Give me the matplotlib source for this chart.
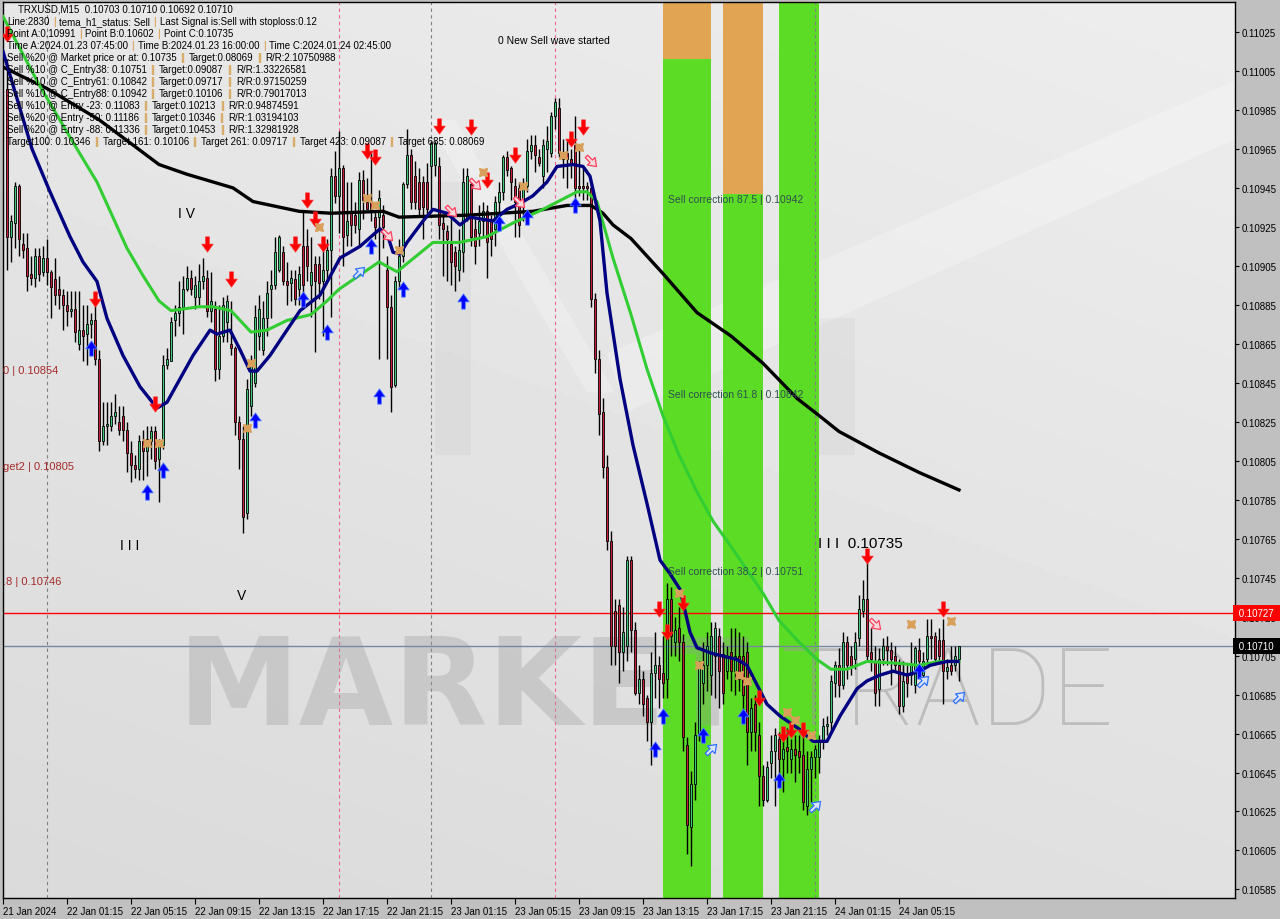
import re
import numpy as np
import matplotlib
matplotlib.use("Agg")
import matplotlib.pyplot as plt
from matplotlib.path import Path
from matplotlib.patches import Rectangle, Polygon

plt.rcParams['font.family'] = ['Liberation Sans', 'DejaVu Sans']

# ---- candles (prices in points of 1e-5), bar 0 = 21 Jan 21:30, M15 ----
opens = [10996, 10920, 10927, 10946, 10916, 10914, 10901, 10899, 10910, 10902,
         10909, 10902, 10898, 10893, 10890, 10885, 10882, 10883, 10865, 10872,
         10870, 10875, 10877, 10857, 10815, 10823, 10823, 10828, 10825, 10828,
         10821, 10809, 10803, 10801, 10815, 10810, 10815, 10820, 10806, 10813,
         10854, 10856, 10877, 10881, 10884, 10893, 10899, 10889, 10889, 10897,
         10899, 10882, 10883, 10852, 10869, 10876, 10865, 10863, 10825, 10816,
         10778, 10833, 10845, 10869, 10862, 10878, 10893, 10895, 10903, 10912,
         10897, 10896, 10898, 10893, 10915, 10915, 10895, 10906, 10906, 10897,
         10903, 10913, 10951, 10941, 10955, 10921, 10933, 10931, 10924, 10949,
         10938, 10938, 10930, 10930, 10931, 10903, 10884, 10844, 10897, 10910,
         10947, 10962, 10951, 10948, 10948, 10948, 10956, 10957, 10956, 10927,
         10923, 10916, 10912, 10903, 10912, 10929, 10947, 10924, 10922, 10928,
         10933, 10928, 10924, 10938, 10943, 10961, 10955, 10946, 10945, 10939,
         10946, 10964, 10967, 10961, 10951, 10965, 10963, 10982, 10986, 10960,
         10963, 10960, 10967, 10946, 10946, 10946, 10945, 10888, 10857, 10830,
         10802, 10764, 10728, 10731, 10707, 10710, 10754, 10718, 10686, 10693,
         10683, 10671, 10696, 10700, 10696, 10693, 10734, 10712, 10719, 10712,
         10659, 10617, 10639, 10664, 10691, 10700, 10695, 10705, 10715, 10706,
         10697, 10707, 10697, 10705, 10705, 10707, 10666, 10680, 10664, 10643,
         10631, 10650, 10656, 10662, 10652, 10658, 10652, 10657, 10656, 10654,
         10628, 10647, 10653, 10653, 10661, 10669, 10671, 10691, 10700, 10690,
         10712, 10705, 10703, 10714, 10728, 10734, 10707, 10702, 10688, 10703,
         10710, 10708, 10705, 10700, 10679, 10696, 10695, 10690, 10708, 10695,
         10703, 10715, 10715, 10713, 10713, 10697, 10700, 10700, 10703]
highs = [11011, 10931, 10948, 10947, 10922, 10922, 10910, 10914, 10914, 10915,
         10919, 10903, 10909, 10900, 10893, 10892, 10892, 10892, 10892, 10885,
         10885, 10881, 10887, 10862, 10835, 10835, 10835, 10839, 10833, 10833,
         10825, 10815, 10808, 10818, 10821, 10823, 10823, 10823, 10816, 10859,
         10863, 10879, 10885, 10897, 10900, 10905, 10903, 10900, 10906, 10909,
         10903, 10902, 10887, 10885, 10889, 10890, 10887, 10864, 10828, 10823,
         10847, 10859, 10885, 10890, 10887, 10897, 10903, 10920, 10921, 10915,
         10907, 10903, 10903, 10905, 10933, 10924, 10920, 10910, 10910, 10914,
         10919, 10955, 10964, 10974, 10957, 10948, 10948, 10938, 10953, 10954,
         10950, 10964, 10933, 10944, 10936, 10910, 10890, 10900, 10919, 10948,
         10975, 10965, 10959, 10955, 10951, 10958, 10969, 10969, 10961, 10931,
         10926, 10931, 10915, 10924, 10955, 10955, 10950, 10929, 10936, 10938,
         10936, 10931, 10941, 10948, 10962, 10964, 10956, 10950, 10948, 10950,
         10970, 10972, 10972, 10965, 10970, 10977, 10984, 10991, 10991, 10970,
         10970, 10965, 10982, 10965, 10955, 10948, 10948, 10891, 10862, 10837,
         10808, 10769, 10734, 10734, 10730, 10756, 10756, 10722, 10700, 10697,
         10685, 10707, 10717, 10705, 10715, 10742, 10740, 10725, 10730, 10716,
         10663, 10646, 10671, 10702, 10712, 10717, 10722, 10722, 10719, 10712,
         10710, 10719, 10719, 10717, 10715, 10712, 10683, 10685, 10671, 10649,
         10651, 10664, 10668, 10666, 10666, 10668, 10662, 10664, 10664, 10664,
         10656, 10656, 10659, 10664, 10673, 10674, 10695, 10702, 10709, 10717,
         10715, 10710, 10717, 10736, 10744, 10753, 10719, 10710, 10709, 10714,
         10715, 10712, 10710, 10703, 10702, 10700, 10712, 10710, 10714, 10707,
         10724, 10724, 10717, 10719, 10724, 10703, 10710, 10710, 10710]
lows = [10903, 10907, 10914, 10910, 10909, 10892, 10895, 10894, 10897, 10900,
        10895, 10878, 10885, 10883, 10872, 10874, 10879, 10866, 10862, 10856,
        10854, 10868, 10854, 10810, 10813, 10813, 10820, 10824, 10818, 10815,
        10799, 10794, 10796, 10795, 10795, 10797, 10806, 10801, 10784, 10811,
        10852, 10856, 10869, 10874, 10870, 10892, 10890, 10883, 10885, 10893,
        10879, 10876, 10846, 10847, 10866, 10866, 10859, 10818, 10801, 10768,
        10775, 10828, 10843, 10862, 10859, 10869, 10878, 10893, 10902, 10895,
        10885, 10887, 10885, 10885, 10890, 10897, 10879, 10861, 10888, 10869,
        10897, 10879, 10937, 10922, 10905, 10915, 10915, 10922, 10915, 10929,
        10934, 10928, 10919, 10857, 10914, 10857, 10830, 10843, 10893, 10907,
        10945, 10934, 10934, 10931, 10919, 10931, 10934, 10951, 10919, 10900,
        10897, 10895, 10892, 10897, 10902, 10928, 10915, 10906, 10915, 10920,
        10899, 10910, 10915, 10928, 10939, 10951, 10939, 10920, 10920, 10928,
        10943, 10960, 10953, 10956, 10945, 10953, 10961, 10975, 10961, 10950,
        10945, 10950, 10939, 10941, 10939, 10939, 10884, 10850, 10818, 10796,
        10759, 10700, 10700, 10691, 10697, 10702, 10707, 10685, 10680, 10674,
        10661, 10649, 10683, 10678, 10683, 10683, 10705, 10705, 10702, 10656,
        10603, 10597, 10631, 10661, 10680, 10687, 10685, 10683, 10678, 10680,
        10693, 10687, 10685, 10687, 10671, 10649, 10656, 10656, 10628, 10628,
        10630, 10642, 10628, 10642, 10635, 10645, 10645, 10640, 10645, 10626,
        10623, 10630, 10642, 10645, 10657, 10664, 10666, 10684, 10684, 10688,
        10693, 10695, 10698, 10710, 10725, 10702, 10697, 10679, 10679, 10700,
        10700, 10690, 10697, 10675, 10676, 10684, 10690, 10686, 10697, 10693,
        10700, 10703, 10700, 10702, 10680, 10693, 10695, 10697, 10692]
closes = [10920, 10928, 10946, 10919, 10913, 10900, 10899, 10910, 10901, 10909,
          10902, 10894, 10890, 10890, 10885, 10882, 10883, 10871, 10872, 10869,
          10875, 10877, 10857, 10815, 10823, 10824, 10828, 10830, 10821, 10821,
          10809, 10803, 10801, 10815, 10810, 10816, 10820, 10805, 10813, 10854,
          10857, 10876, 10881, 10884, 10893, 10899, 10893, 10895, 10897, 10900,
          10882, 10887, 10852, 10869, 10885, 10887, 10863, 10825, 10816, 10776,
          10842, 10856, 10879, 10883, 10878, 10891, 10895, 10912, 10920, 10897,
          10895, 10899, 10888, 10901, 10895, 10905, 10902, 10897, 10896, 10903,
          10913, 10951, 10941, 10955, 10920, 10928, 10926, 10926, 10949, 10939,
          10934, 10934, 10925, 10940, 10925, 10884, 10843, 10897, 10910, 10947,
          10962, 10938, 10938, 10934, 10935, 10934, 10968, 10968, 10926, 10924,
          10919, 10907, 10905, 10913, 10948, 10951, 10920, 10915, 10928, 10933,
          10917, 10919, 10938, 10943, 10961, 10954, 10948, 10938, 10926, 10945,
          10964, 10967, 10962, 10958, 10967, 10969, 10982, 10989, 10963, 10963,
          10960, 10958, 10945, 10945, 10945, 10945, 10888, 10857, 10829, 10802,
          10764, 10710, 10710, 10707, 10717, 10754, 10718, 10686, 10693, 10680,
          10671, 10696, 10700, 10693, 10691, 10734, 10715, 10718, 10712, 10663,
          10618, 10639, 10664, 10699, 10700, 10710, 10715, 10719, 10697, 10686,
          10705, 10697, 10705, 10693, 10685, 10666, 10678, 10666, 10643, 10631,
          10648, 10656, 10664, 10652, 10657, 10656, 10657, 10654, 10653, 10630,
          10647, 10653, 10657, 10661, 10669, 10670, 10692, 10700, 10690, 10712,
          10700, 10699, 10712, 10729, 10734, 10705, 10703, 10686, 10703, 10710,
          10708, 10703, 10700, 10679, 10692, 10691, 10700, 10709, 10702, 10702,
          10715, 10714, 10703, 10705, 10697, 10699, 10697, 10705, 10710]

# ---- moving averages (bar index, points) ----
slow_x = [-1, 10, 23, 31.5, 38, 45, 56.5, 61.5, 73, 81, 94, 98, 115, 131.5, 140,
          146, 149, 151.5, 156, 164, 172.5, 181, 189, 197.5, 202.5, 208, 218, 228, 238]
slow_y = [11007, 10996, 10980, 10967, 10957, 10952, 10945, 10938, 10933, 10932, 10933,
          10930, 10931, 10933, 10936, 10936, 10932, 10926, 10919, 10901, 10881, 10869,
          10855, 10837, 10829, 10820, 10809, 10799, 10790]
mid_x = [-1, 8, 17.5, 22.5, 30, 34, 38, 41, 48, 51.5, 56, 61, 65, 70, 76, 80, 83, 93,
         97.5, 106.5, 113, 120, 126.5, 134, 142.5, 145, 147.5, 151.5, 156, 160, 164,
         168, 172.5, 176.5, 181, 185, 189, 193, 197.5, 202.5, 206, 210, 215, 223, 228,
         233, 238]
mid_y = [11033, 10998, 10965, 10948, 10914, 10900, 10887, 10882, 10884, 10884, 10882,
         10871, 10872, 10877, 10880, 10887, 10893, 10907, 10902, 10917, 10917, 10920,
         10927, 10934, 10943, 10943, 10938, 10909, 10880, 10852, 10828, 10808, 10789,
         10774, 10761, 10749, 10737, 10723, 10713, 10703, 10698, 10698, 10702, 10701,
         10700, 10702, 10702]
fast_x = [-1, 6.25, 10.75, 15.75, 19, 22.5, 25, 29, 33.25, 37.5, 40, 43.25, 46.5,
          50.75, 52.5, 55.75, 58.25, 60.75, 62.5, 65.75, 69, 73.25, 78.25, 83.25,
          88.25, 93.25, 95.25, 96.5, 98.25, 100, 104, 106.5, 110, 113.25, 115.75,
          121.5, 125, 128.25, 131.5, 135, 137.5, 141.5, 144, 145.75, 148.25, 150,
          153.25, 156.5, 160, 163.25, 165.75, 168.25, 170.75, 172.5, 176.5, 182.5,
          185, 187.5, 190, 193.25, 198.25, 201.5, 205, 208.25, 212.5, 215, 218.25,
          221.5, 225, 228.25, 230.75, 235, 237.75]
fast_y = [11015, 10965, 10943, 10920, 10907, 10897, 10878, 10859, 10843, 10832, 10835,
          10847, 10859, 10872, 10870, 10872, 10862, 10851, 10851, 10859, 10869, 10882,
          10890, 10909, 10915, 10924, 10920, 10912, 10911, 10917, 10928, 10934, 10932,
          10926, 10930, 10928, 10934, 10937, 10941, 10948, 10956, 10957, 10956, 10951,
          10928, 10891, 10847, 10813, 10783, 10754, 10747, 10739, 10717, 10709, 10706,
          10703, 10700, 10690, 10680, 10674, 10667, 10661, 10661, 10674, 10688, 10692,
          10695, 10697, 10695, 10697, 10700, 10702, 10702]

# ---- signals (bar index, points) ----
sell_x = [0, 22, 37, 50, 56, 72, 75, 77, 79, 90, 92, 108, 116, 120, 127, 141, 144,
          163, 165, 169, 188, 194, 196, 199, 215, 234]
sell_y = [11024, 10888, 10834, 10916, 10898, 10916, 10939, 10929, 10916, 10964, 10961,
          10977, 10976, 10949, 10962, 10970, 10976, 10729, 10717, 10732, 10683, 10665,
          10667, 10667, 10756, 10729]
buy_x = [21, 35, 39, 62, 74, 80, 91, 93, 99, 114, 123, 130, 142, 162, 164, 174, 184, 193, 228]
buy_y = [10863, 10789, 10800, 10826, 10888, 10871, 10915, 10838, 10893, 10887, 10927,
         10930, 10936, 10657, 10674, 10664, 10674, 10641, 10697]
exit_sell_x = [95, 111, 117, 128, 146, 217]
exit_sell_y = [10921, 10933, 10947, 10938, 10959, 10721]
exit_buy_x = [88, 176, 202, 229, 238]
exit_buy_y = [10902, 10657, 10628, 10692, 10684]
cross_x = [35, 38, 60, 61, 78, 90, 92, 98, 119, 129, 139, 143, 168, 173, 183, 185,
           195, 197, 201, 226, 236]
cross_y = [10814, 10814, 10822, 10855, 10925, 10940, 10936, 10913, 10953, 10946, 10962,
           10966, 10737, 10700, 10695, 10692, 10676, 10672, 10664, 10721, 10723]

# correction zones (bar spans) and their upper orange cap
zone_start = [164, 179, 193]
zone_end = [176, 189, 203]
zone_cap = [0.11011, 0.10942, None]

tick_labels = ["21 Jan 2024", "22 Jan 01:15", "22 Jan 05:15", "22 Jan 09:15",
               "22 Jan 13:15", "22 Jan 17:15", "22 Jan 21:15", "23 Jan 01:15",
               "23 Jan 05:15", "23 Jan 09:15", "23 Jan 13:15", "23 Jan 17:15",
               "23 Jan 21:15", "24 Jan 01:15", "24 Jan 05:15"]
day_breaks = [10, 106, 202]
marks = [83, 137]

header = [
    "TRXUSD,M15  0.10703 0.10710 0.10692 0.10710",
    "Line:2830 | tema_h1_status: Sell | Last Signal is:Sell with stoploss:0.12",
    "Point A:0.10991 | Point B:0.10602 | Point C:0.10735",
    "Time A:2024.01.23 07:45:00 | Time B:2024.01.23 16:00:00 | Time C:2024.01.24 02:45:00",
    "Sell %20 @ Market price or at: 0.10735 || Target:0.08069 || R/R:2.10750988",
    "Sell %10 @ C_Entry38: 0.10751 || Target:0.09087 || R/R:1.33226581",
    "Sell %10 @ C_Entry61: 0.10842 || Target:0.09717 || R/R:0.97150259",
    "Sell %10 @ C_Entry88: 0.10942 || Target:0.10106 || R/R:0.79017013",
    "Sell %10 @ Entry -23: 0.11083 || Target:0.10213 || R/R:0.94874591",
    "Sell %20 @ Entry -50: 0.11186 || Target:0.10346 || R/R:1.03194103",
    "Sell %20 @ Entry -88: 0.11336 || Target:0.10453 || R/R:1.32981928",
    "Target100: 0.10346 || Target 161: 0.10106 || Target 261: 0.09717 || Target 423: 0.09087 || Target 685: 0.08069",
]

W, H = 1280, 920
fig = plt.figure(figsize=(W / 100, H / 100), dpi=100, facecolor='#c0c0c0')
ax = fig.add_axes([3 / W, 21 / H, 1232 / W, 896 / H])
YMIN, YMAX = 0.105806, 0.110404
XMIN, XMAX = -1, 307

# background
gy, gx = np.mgrid[0:1:200j, 0:1:200j]
bg = 0.855 + 0.05 * gy + 0.025 * gx
ax.imshow(bg, cmap='gray', vmin=0, vmax=1, extent=[XMIN, XMAX, YMIN, YMAX],
          origin='lower', aspect='auto', zorder=0)
ax.add_patch(Polygon([(150, 0.1086), (307, 0.1100), (307, 0.1097), (155, 0.1083)],
                     closed=True, fc='white', alpha=0.25, lw=0, zorder=0.5))
ax.add_patch(Polygon([(105, 0.1098), (112, 0.1098), (152, 0.1084), (145, 0.1084)],
                     closed=True, fc='white', alpha=0.25, lw=0, zorder=0.5))
ax.add_patch(Rectangle((107, 0.10808), 9, 0.0014, fc='#b0b0b0', alpha=0.12, lw=0, zorder=0.5))
ax.add_patch(Rectangle((203, 0.10808), 9, 0.0007, fc='#b0b0b0', alpha=0.12, lw=0, zorder=0.5))

# correction zones
for s, e, cap in zip(zone_start, zone_end, zone_cap):
    ax.axvspan(s, e, color='#5cdc24', lw=0, zorder=1)
    if cap is not None:
        ax.add_patch(Rectangle((s, cap), e - s, YMAX - cap, fc='#e0a452', lw=0, zorder=1.1))

for d in day_breaks:
    ax.axvline(d, color='#808080', lw=0.8, ls=(0, (3, 3)), zorder=1.5)
for m in marks:
    ax.axvline(m, color='#f06292', lw=0.8, ls=(0, (3, 3)), zorder=1.5)

# watermark
ax.text(178 / W, 1 - 725 / H, "MARKET", transform=fig.transFigure, fontsize=88,
        fontweight='bold', family='DejaVu Sans', color='#9a9a9a', alpha=0.33,
        va='baseline', ha='left', zorder=1.8)
ax.text(780 / W, 1 - 725 / H, "TRADE", transform=fig.transFigure, fontsize=78,
        fontweight='light', family='Roboto', color='#9a9a9a', alpha=0.5,
        va='baseline', ha='left', zorder=1.8)

ax.axhline(0.10727, color='red', lw=1, zorder=2)
ax.axhline(0.10710, color='#7788a0', lw=1, zorder=2)

# candles
O = np.array(opens) / 1e5
Hh = np.array(highs) / 1e5
L = np.array(lows) / 1e5
C = np.array(closes) / 1e5
idx = np.arange(len(O))
ax.vlines(idx, L, Hh, color='black', lw=1, zorder=3)
up = C >= O
body = np.maximum(np.abs(C - O), 0.000006)
ax.bar(idx[up], body[up], bottom=np.minimum(O, C)[up], width=0.62, color='#3dc878',
       edgecolor='black', linewidth=0.6, zorder=3.5)
ax.bar(idx[~up], body[~up], bottom=np.minimum(O, C)[~up], width=0.62, color='#c41e3a',
       edgecolor='black', linewidth=0.6, zorder=3.5)

# moving averages
ax.plot(slow_x, np.array(slow_y) / 1e5, color='black', lw=2.4, zorder=4)
ax.plot(mid_x, np.array(mid_y) / 1e5, color='#32cd32', lw=2.2, zorder=4.1)
ax.plot(fast_x, np.array(fast_y) / 1e5, color='#000080', lw=2.4, zorder=4.2)


def arrow(angle):
    v = np.array([(-0.24, 1.0), (0.24, 1.0), (0.24, 0.05), (0.75, 0.05), (0.0, -1.0),
                  (-0.75, 0.05), (-0.24, 0.05), (-0.24, 1.0)])
    a = np.deg2rad(angle)
    rot = np.array([[np.cos(a), -np.sin(a)], [np.sin(a), np.cos(a)]])
    return Path(v @ rot.T, closed=True)


ax.plot(sell_x, np.array(sell_y) / 1e5, ls='none', marker=arrow(0), ms=11,
        mfc='#ff0000', mec='#ff3030', mew=0.5, zorder=6)
ax.plot(buy_x, np.array(buy_y) / 1e5, ls='none', marker=arrow(180), ms=11,
        mfc='#0000ff', mec='#5080ff', mew=0.6, zorder=6)
ax.plot(exit_sell_x, np.array(exit_sell_y) / 1e5, ls='none', marker=arrow(45), ms=9,
        mfc='#f4dada', mec='#ff4060', mew=0.9, zorder=6)
ax.plot(exit_buy_x, np.array(exit_buy_y) / 1e5, ls='none', marker=arrow(135), ms=9,
        mfc='#d8e4f8', mec='#3070ff', mew=0.9, zorder=6)
ax.plot(cross_x, np.array(cross_y) / 1e5, ls='none', marker=(4, 1, 45), ms=8,
        mfc='#d9a05b', mec='#d9a05b', mew=1, zorder=6)

# chart texts
ax.text(122.75, 0.11021, "0 New Sell wave started", fontsize=7.5, va='center', zorder=7)
ax.text(42.75, 0.10932, "I V", fontsize=10, va='center', zorder=7)
ax.text(28.25, 0.10762, "I I I", fontsize=10, va='center', zorder=7)
ax.text(57.5, 0.10736, "V", fontsize=10, va='center', zorder=7)
ax.text(202.75, 0.10763, "I I I  0.10735", fontsize=11, va='center', zorder=7)
for lvl, s in [(0.10854, "0 | 0.10854"), (0.10805, "get2 | 0.10805"), (0.10746, ".8 | 0.10746")]:
    ax.text(-0.9, lvl, s, fontsize=8, color='#a52a2a', va='top', zorder=7)
for lvl, s in [(0.10942, "87.5"), (0.10842, "61.8"), (0.10751, "38.2")]:
    ax.text(165.25, lvl, "Sell correction %s | %.5f" % (s, lvl), fontsize=7.5,
            color='#2f4f4f', va='top', zorder=7)

# header block with orange separators
for n, line in enumerate(header):
    x0 = 18 if n == 0 else 7
    parts = [p.strip() for p in re.split(r'(\|+)', line) if p.strip()]
    t = fig.text(x0 / W, 1 - (10 + 12 * n) / H, parts[0], fontsize=7, va='center',
                 color='black', zorder=10)
    for p in parts[1:]:
        t = ax.annotate(p, xy=(1, 0), xycoords=t, xytext=(2.6, 0),
                        textcoords='offset points', va='bottom', ha='left', fontsize=7,
                        color='#d08a20' if p.startswith('|') else 'black',
                        annotation_clip=False, zorder=10)

# axes
ax.set_xlim(XMIN, XMAX)
ax.set_ylim(YMIN, YMAX)
ax.yaxis.tick_right()
ax.set_yticks([0.10585 + 0.0002 * k for k in range(23)])
ax.set_yticklabels(["%.5f" % (0.10585 + 0.0002 * k) for k in range(23)])
ax.set_xticks([-1 + 16 * k for k in range(len(tick_labels))])
ax.set_xticklabels(tick_labels, ha='left')
ax.tick_params(axis='y', length=3, labelsize=7, pad=2, colors='black')
ax.tick_params(axis='x', length=4, labelsize=7, pad=2, colors='black')
for sp in ax.spines.values():
    sp.set_color('black')
    sp.set_linewidth(1)

for lvl, fc in [(0.10727, '#ff0000'), (0.10710, '#000000')]:
    ax.text(1.001, lvl, " %.5f " % lvl, transform=ax.get_yaxis_transform(), fontsize=7,
            color='white', va='center', ha='left', zorder=10,
            bbox=dict(boxstyle='square,pad=0.3', fc=fc, ec='none'))

fig.savefig("out.png", dpi=100, facecolor=fig.get_facecolor())
